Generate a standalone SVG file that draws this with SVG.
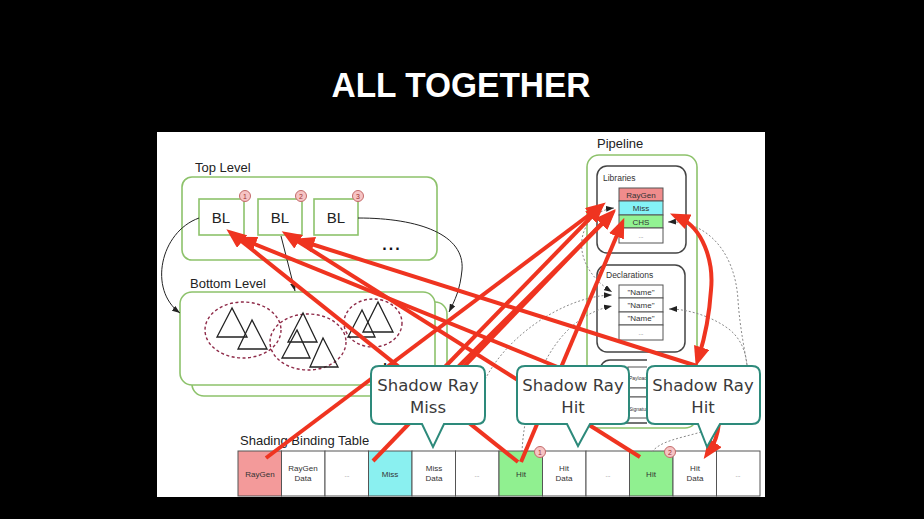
<svg xmlns="http://www.w3.org/2000/svg" width="924" height="519" viewBox="0 0 924 519">
<defs>
<style>
.lbl{font-family:"Liberation Sans",Arial,sans-serif;font-size:13px;fill:#222}
.sm{font-family:"Liberation Sans",Arial,sans-serif;font-size:8px;fill:#333;text-anchor:middle}
.dots{font-family:"Liberation Sans",Arial,sans-serif;font-size:6px;fill:#555;text-anchor:middle}
.sml{font-family:"Liberation Sans",Arial,sans-serif;font-size:8.5px;fill:#333}
.tiny{font-family:"Liberation Sans",Arial,sans-serif;font-size:5px;fill:#333}
.grn{fill:none;stroke:#8dc26b;stroke-width:1.6}
.gbox{fill:#fff;stroke:#8dc26b;stroke-width:1.6}
.dk{fill:#fff;stroke:#444;stroke-width:1.5}
.cell{stroke:#555;stroke-width:1}
.ell{fill:none;stroke:#8e2a48;stroke-width:1.4;stroke-dasharray:3 2.5}
.tri{fill:none;stroke:#222;stroke-width:1.3}
.red{fill:none;stroke:#ef3420;stroke-width:4}
.blk{fill:none;stroke:#222;stroke-width:1}
.gry{fill:none;stroke:#8a8a8a;stroke-width:1;stroke-dasharray:2 2}
.co{fill:#fff;stroke:#2d8a7b;stroke-width:2}
.cot{font-family:"DejaVu Sans",Verdana,sans-serif;font-size:16.5px;fill:#3a3a3a;text-anchor:middle}
.num{fill:#f6c4c4;stroke:#c46a6a;stroke-width:1}
.numt{font-family:"Liberation Sans",Arial,sans-serif;font-size:7px;fill:#a03030;text-anchor:middle}
</style>
<marker id="ra" viewBox="0 0 20 16" refX="9" refY="8" markerWidth="20" markerHeight="16" markerUnits="userSpaceOnUse" orient="auto-start-reverse">
<path d="M0,0 L20,8 L0,16 z" fill="#ef3420"/>
</marker>
<marker id="ka" viewBox="0 0 8 6" refX="8" refY="3" markerWidth="8" markerHeight="6" markerUnits="userSpaceOnUse" orient="auto-start-reverse">
<path d="M0,0 L8,3 L0,6 z" fill="#222"/>
</marker>
<clipPath id="sigclip"><rect x="595" y="355" width="52" height="75"/></clipPath>
</defs>

<rect x="0" y="0" width="924" height="519" fill="#000"/>
<text x="461" y="97" text-anchor="middle" font-family="Liberation Sans, Arial, sans-serif" font-weight="bold" font-size="35" fill="#fff" textLength="259" lengthAdjust="spacingAndGlyphs">ALL TOGETHER</text>
<rect x="157" y="132" width="608" height="365" fill="#fff"/>

<g id="top-level">
<text class="lbl" x="195" y="172">Top Level</text>
<rect class="grn" x="182" y="177" width="255" height="83" rx="10"/>
<text x="392" y="250" text-anchor="middle" font-family="Liberation Sans, Arial, sans-serif" font-weight="bold" font-size="16" letter-spacing="2" fill="#111">...</text>
</g>
<g id="bl1">
<rect class="gbox" x="199" y="199" width="45" height="36"/>
<text x="221" y="223" text-anchor="middle" font-family="Liberation Sans, Arial, sans-serif" font-size="15" fill="#222">BL</text>
<circle class="num" cx="245" cy="196" r="5.5"/><text class="numt" x="245" y="198.5">1</text>
</g>
<g id="bl2">
<rect class="gbox" x="258" y="199" width="44" height="36"/>
<text x="280" y="223" text-anchor="middle" font-family="Liberation Sans, Arial, sans-serif" font-size="15" fill="#222">BL</text>
<circle class="num" cx="301" cy="196" r="5.5"/><text class="numt" x="301" y="198.5">2</text>
</g>
<g id="bl3">
<rect class="gbox" x="314" y="199" width="44" height="36"/>
<text x="336" y="223" text-anchor="middle" font-family="Liberation Sans, Arial, sans-serif" font-size="15" fill="#222">BL</text>
<circle class="num" cx="358" cy="196" r="5.5"/><text class="numt" x="358" y="198.5">3</text>
</g>

<g id="bottom-level">
<text class="lbl" x="190" y="288">Bottom Level</text>
<rect class="gbox" x="192" y="302" width="255" height="94" rx="12"/>
<rect class="gbox" x="180" y="292" width="255" height="93" rx="12"/>
<ellipse class="ell" cx="243" cy="330" rx="38" ry="28"/>
<ellipse class="ell" cx="308" cy="342" rx="38" ry="28"/>
<ellipse class="ell" cx="373" cy="323" rx="29" ry="24"/>
<polygon class="tri" points="232,308 217,337 247,337"/>
<polygon class="tri" points="252,320 238,349 267,349"/>
<polygon class="tri" points="303,313 288,342 317,342"/>
<polygon class="tri" points="297,330 282,358 310,358"/>
<polygon class="tri" points="323,338 310,367 338,367"/>
<polygon class="tri" points="362,310 348,337 375,337"/>
<polygon class="tri" points="378,302 363,332 393,332"/>
<text x="391" y="365" text-anchor="middle" font-family="Liberation Sans, Arial, sans-serif" font-weight="bold" font-size="13" letter-spacing="1.5" fill="#111">...</text>
</g>

<g id="pipeline">
<text class="lbl" x="597" y="148">Pipeline</text>
<rect class="grn" x="587" y="155" width="110" height="273" rx="12"/>
</g>
<g id="libraries">
<rect class="dk" x="597" y="166" width="89" height="87" rx="10"/>
<text class="sml" x="603" y="181">Libraries</text>
<rect class="cell" x="619" y="188" width="44" height="13" fill="#f08c8c"/>
<rect class="cell" x="619" y="201" width="44" height="14" fill="#84f2f6"/>
<rect class="cell" x="619" y="215" width="44" height="13" fill="#92f392"/>
<rect class="cell" x="619" y="228" width="44" height="15" fill="#fff"/>
<text class="sm" x="641" y="198">RayGen</text>
<text class="sm" x="641" y="211">Miss</text>
<text class="sm" x="641" y="224.5">CHS</text>
<text class="dots" x="641" y="238">...</text>
</g>
<g id="declarations">
<rect class="dk" x="597" y="265" width="88" height="87" rx="10"/>
<text class="sml" x="606" y="278">Declarations</text>
<rect class="cell" x="619" y="285" width="44" height="13" fill="#fff"/>
<rect class="cell" x="619" y="298" width="44" height="14" fill="#fff"/>
<rect class="cell" x="619" y="312" width="44" height="13" fill="#fff"/>
<rect class="cell" x="619" y="325" width="44" height="15" fill="#fff"/>
<text class="sm" x="641" y="295">"Name"</text>
<text class="sm" x="641" y="308">"Name"</text>
<text class="sm" x="641" y="321">"Name"</text>
<text class="dots" x="641" y="335">...</text>
</g>
<g id="signatures" clip-path="url(#sigclip)">
<rect class="dk" x="600" y="360" width="88" height="63" rx="10"/>
<rect class="cell" x="628" y="367" width="44" height="21" fill="#fff"/>
<rect class="cell" x="628" y="388" width="44" height="9" fill="#fff"/>
<rect class="cell" x="628" y="397" width="44" height="21" fill="#fff"/>
<text class="tiny" x="629" y="380">Payload</text>
<text class="tiny" x="629" y="411">Signature</text>
</g>

<g id="sbt">
<text class="lbl" x="240" y="445">Shading Binding Table</text>
<rect class="cell" x="238" y="451" width="43.5" height="45" fill="#f39a9a"/>
<rect class="cell" x="281.5" y="451" width="43.5" height="45" fill="#fff"/>
<rect class="cell" x="325" y="451" width="43.5" height="45" fill="#fff"/>
<rect class="cell" x="368.5" y="451" width="43.5" height="45" fill="#8af0f0"/>
<rect class="cell" x="412" y="451" width="43.5" height="45" fill="#fff"/>
<rect class="cell" x="455.5" y="451" width="43.5" height="45" fill="#fff"/>
<rect class="cell" x="499" y="451" width="43.5" height="45" fill="#90f090"/>
<rect class="cell" x="542.5" y="451" width="43.5" height="45" fill="#fff"/>
<rect class="cell" x="586" y="451" width="43.5" height="45" fill="#fff"/>
<rect class="cell" x="629.5" y="451" width="43.5" height="45" fill="#90f090"/>
<rect class="cell" x="673" y="451" width="43.5" height="45" fill="#fff"/>
<rect class="cell" x="716.5" y="451" width="43.5" height="45" fill="#fff"/>
<text class="sm" x="260" y="477">RayGen</text>
<text class="sm" x="303" y="471">RayGen</text><text class="sm" x="303" y="481">Data</text>
<text class="dots" x="347" y="477">...</text>
<text class="sm" x="390" y="477">Miss</text>
<text class="sm" x="434" y="471">Miss</text><text class="sm" x="434" y="481">Data</text>
<text class="dots" x="477" y="477">...</text>
<text class="sm" x="521" y="477">Hit</text>
<text class="sm" x="564" y="471">Hit</text><text class="sm" x="564" y="481">Data</text>
<text class="dots" x="608" y="477">...</text>
<text class="sm" x="651" y="477">Hit</text>
<text class="sm" x="695" y="471">Hit</text><text class="sm" x="695" y="481">Data</text>
<text class="dots" x="738" y="477">...</text>
</g>

<g id="connectors">
<path class="gry" d="M614,208 C578,212 565,262 612,292" marker-start="url(#ka)" marker-end="url(#ka)"/>
<path class="gry" d="M478,398 C492,345 560,296 612,295" marker-end="url(#ka)"/>
<path class="gry" d="M522,452 C524,405 545,320 612,306" marker-end="url(#ka)"/>
<path class="gry" d="M668,222 C705,220 735,250 738,300 C740,330 745,350 748,372" marker-start="url(#ka)"/>
<path class="gry" d="M652,452 C668,430 735,440 745,395 C750,370 748,345 730,330 C715,318 690,309 669,309" marker-end="url(#ka)"/>
<path class="blk" d="M199,218 C160,232 148,290 180,313" marker-end="url(#ka)"/>
<path class="blk" d="M281,236 L295,291" marker-end="url(#ka)"/>
<path class="blk" d="M358,218 C420,218 465,235 462,270 C460,290 455,300 449,312" marker-end="url(#ka)"/>

<path class="red" d="M518,462 L235,236" marker-end="url(#ra)"/>
<path class="red" d="M560,368 L247,241" marker-end="url(#ra)"/>
<path class="red" d="M640,457 L291,237" marker-end="url(#ra)"/>
<path class="red" d="M697,366 L305,242" marker-end="url(#ra)"/>
<path class="red" d="M266,458 L597,209" marker-end="url(#ra)"/>
<path class="red" d="M373,461 L608,217" marker-end="url(#ra)"/>
<path class="red" d="M440,372 L597,211" marker-end="url(#ra)"/>
<path class="red" d="M453,372 L608,218" marker-end="url(#ra)"/>
<path class="red" d="M521,462 L620,228" marker-end="url(#ra)"/>
<path class="red" d="M680,218 C702,228 714,260 711,290 C709,320 704,340 699,356" marker-start="url(#ra)" marker-end="url(#ra)"/>
<path class="red" d="M719,423 Q717,440 710,450" marker-end="url(#ra)"/>
</g>

<g id="hit-numbers">
<circle class="num" cx="540" cy="452" r="5.5"/><text class="numt" x="540" y="454.5">1</text>
<circle class="num" cx="670" cy="452" r="5.5"/><text class="numt" x="670" y="454.5">2</text>
</g>

<g id="callout-miss">
<path class="co" d="M379,366 H477 Q485,366 485,374 V416 Q485,424 477,424 H444 L433,447 L422,424 H379 Q371,424 371,416 V374 Q371,366 379,366 Z"/>
<text class="cot" x="428" y="391">Shadow Ray</text>
<text class="cot" x="428" y="413">Miss</text>
</g>
<g id="callout-hit1">
<path class="co" d="M525,366 H621 Q629,366 629,374 V416 Q629,424 621,424 H590 L578,446 L567,424 H525 Q517,424 517,416 V374 Q517,366 525,366 Z"/>
<text class="cot" x="573" y="391">Shadow Ray</text>
<text class="cot" x="573" y="413">Hit</text>
</g>
<g id="callout-hit2">
<path class="co" d="M655,366 H752 Q760,366 760,374 V416 Q760,424 752,424 H720 L707,447 L698,424 H655 Q647,424 647,416 V374 Q647,366 655,366 Z"/>
<text class="cot" x="703" y="391">Shadow Ray</text>
<text class="cot" x="703" y="413">Hit</text>
</g>
</svg>
